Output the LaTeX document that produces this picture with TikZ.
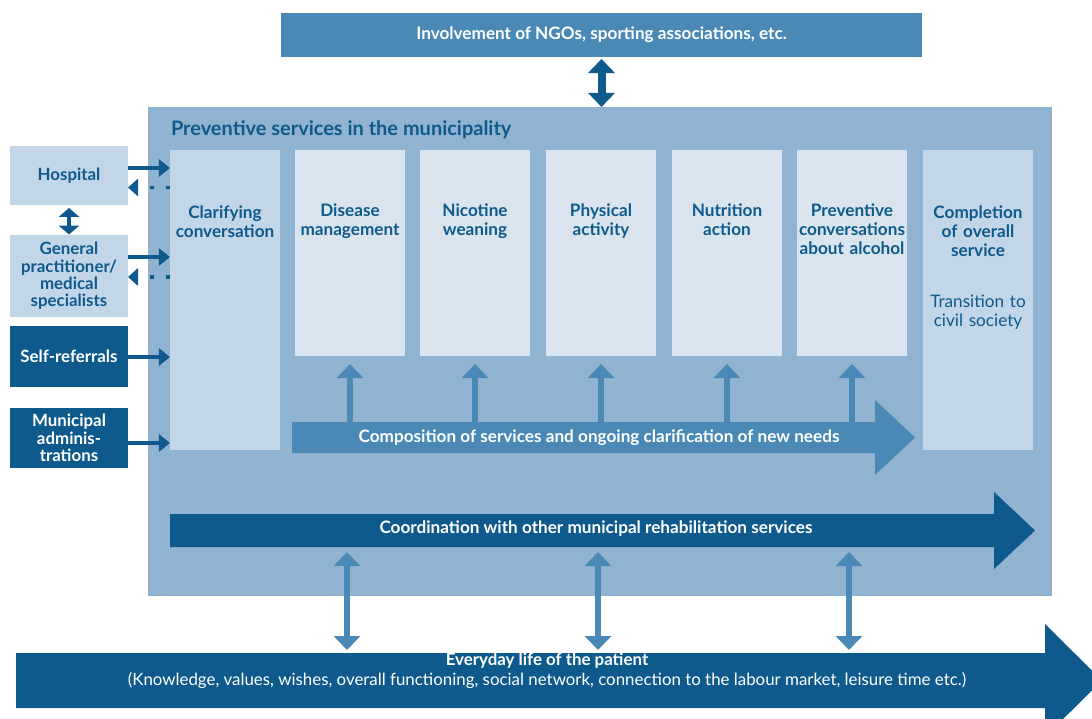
\documentclass[tikz,border=0pt]{standalone}
\usepackage{fontspec}
\setmainfont{Lato}
\usetikzlibrary{arrows.meta,calc,positioning}

\definecolor{darkblue}{HTML}{0E5A8C}
\definecolor{midblue}{HTML}{4A89B5}
\definecolor{panelblue}{HTML}{8FB3D0}
\definecolor{paleblue}{HTML}{C3D6E7}
\definecolor{mistblue}{HTML}{DAE4EF}

\tikzset{
  panel/.style={inner sep=0pt, outer sep=0pt},
  sidebox/.style={panel, minimum width=2.95cm, align=center, font=\bfseries\fontsize{12}{12.3}\selectfont},
  column/.style={panel, minimum width=2.75cm},
  coltext/.style={panel, align=center, text width=2.75cm, text=darkblue, font=\bfseries\fontsize{12.2}{13.5}\selectfont},
  bartext/.style={panel, text=white, font=\bfseries\fontsize{12.2}{14}\selectfont},
  feed/.style={draw=darkblue, line width=0.12cm, -{Triangle[length=0.28cm, width=0.43cm]}},
  back/.style={draw=darkblue, line width=0.09cm, dash pattern=on 0.1cm off 0.3cm, -{Triangle[length=0.25cm, width=0.43cm]}},
  twoway/.style={line width=0.15cm, {Triangle[length=0.35cm, width=0.65cm]}-{Triangle[length=0.35cm, width=0.65cm]}},
  lift/.style={draw=midblue, line width=0.15cm, -{Triangle[length=0.35cm, width=0.65cm]}},
}

\begin{document}
\begin{tikzpicture}[x=0.025cm, y=-0.025cm]
\clip (0,0) rectangle (1092,718);

% Municipality panel
\node[panel, fill=panelblue, minimum width=22.6cm, minimum height=12.225cm] (main) at (600,351.5) {};
\node[panel, anchor=west, text=darkblue, font=\bfseries\fontsize{14.2}{16}\selectfont] (title) at (171,130) {Preventive services in the municipality};

\node[panel, fill=midblue, minimum width=16.025cm, minimum height=1.1cm, text=white, font=\bfseries\fontsize{12.2}{14}\selectfont] (ngo) at (601.5,35) {Involvement of NGOs, sporting associations, etc.};
\draw[twoway, draw=darkblue, line width=0.2cm, shorten <=0.05cm] (ngo.south) -- (ngo.south |- main.north);

% Columns
\node[column, fill=paleblue, minimum height=7.5cm] (clar) at (225,300) {};
\node[coltext, below=1.4cm of clar.north] (clar-text) {Clarifying\\conversation};
\foreach \cx/\nm/\txt in {350/dis/{Disease\\management}, 475/nic/{Nicotine\\weaning}, 601/phy/{Physical\\activity}, 727/nut/{Nutrition\\action}, 852/alc/{Preventive\\conversations\\about alcohol}} {
  \node[column, fill=mistblue, minimum height=5.15cm] (\nm) at (\cx,253) {};
  \node[coltext, below=1.35cm of \nm.north] (\nm-text) {\txt};
}
\node[column, fill=paleblue, minimum height=7.5cm] (done) at (978,300) {};
\node[coltext, below=1.4cm of done.north] (done-text) {Completion\\of overall\\service};
\node[coltext, font=\fontsize{12.2}{13.5}\selectfont, below=3.63cm of done.north] (civil) {Transition to\\civil society};

% Composition arrow
\fill[midblue] (292,422) -- (875,422) -- (875,400) -- (915,437.5) -- (875,475) -- (875,453) -- (292,453) -- cycle;
\node[bartext, minimum height=0.775cm] (comp) at (599,437.5) {Composition of services and ongoing clarification of new needs};
\foreach \nm in {dis,nic,phy,nut,alc}
  \draw[lift, shorten >=0.2cm] (\nm.south |- comp.north) -- (\nm.south);

% Coordination arrow
\fill[darkblue] (170,514) -- (994,514) -- (994,492) -- (1035,530.5) -- (994,569) -- (994,547) -- (170,547) -- cycle;
\node[bartext] (coord) at (596,529) {Coordination with other municipal rehabilitation services};
\coordinate (coordlow) at (170,547);

% Everyday life arrow
\fill[darkblue] (16,653) -- (1045,653) -- (1045,624) -- (1102,680.5) -- (1045,737) -- (1045,708) -- (16,708) -- cycle;
\coordinate (lifetop) at (16,653);
\foreach \bx in {347,598,849}
  \draw[twoway, draw=midblue, shorten <=0.125cm, shorten >=0.075cm] (coordlow -| \bx,0) -- (lifetop -| \bx,0);
\node[bartext, align=center, font=\fontsize{12}{14.2}\selectfont] (life) at (547,671) {\textbf{Everyday life of the patient}\\(Knowledge, values, wishes, overall functioning, social network, connection to the labour market, leisure time etc.)};

% Referral boxes
\node[sidebox, fill=paleblue, text=darkblue, minimum height=1.475cm] (hosp) at (69,175.5) {Hospital};
\node[sidebox, fill=paleblue, text=darkblue, minimum height=2.025cm] (gp) at (69,276) {General\\practitioner/\\medical\\specialists};
\node[sidebox, fill=darkblue, text=white, minimum height=1.5cm] (self) at (69,356.5) {Self-referrals};
\node[sidebox, fill=darkblue, text=white, minimum height=1.5cm] (muni) at (69,438) {Municipal\\adminis-\\trations};
\draw[twoway, draw=darkblue, line width=0.12cm, {Triangle[length=0.22cm, width=0.5cm]}-{Triangle[length=0.22cm, width=0.5cm]}, shorten <=0.075cm, shorten >=0.025cm] (hosp.south) -- (gp.north);

\foreach \src/\dy in {hosp/-7.5, gp/-19, self/0.5, muni/5}
  \draw[feed] ($(\src.east)+(0,\dy)$) coordinate (\src-in) -- (\src-in -| clar.west);
\foreach \src/\dy in {hosp/12, gp/1}
{
  \coordinate (\src-out) at ($(\src.east)+(0,\dy)$);
  \draw[back] (\src-out -| clar.west) -- (\src-out);
}
\end{tikzpicture}
\end{document}
